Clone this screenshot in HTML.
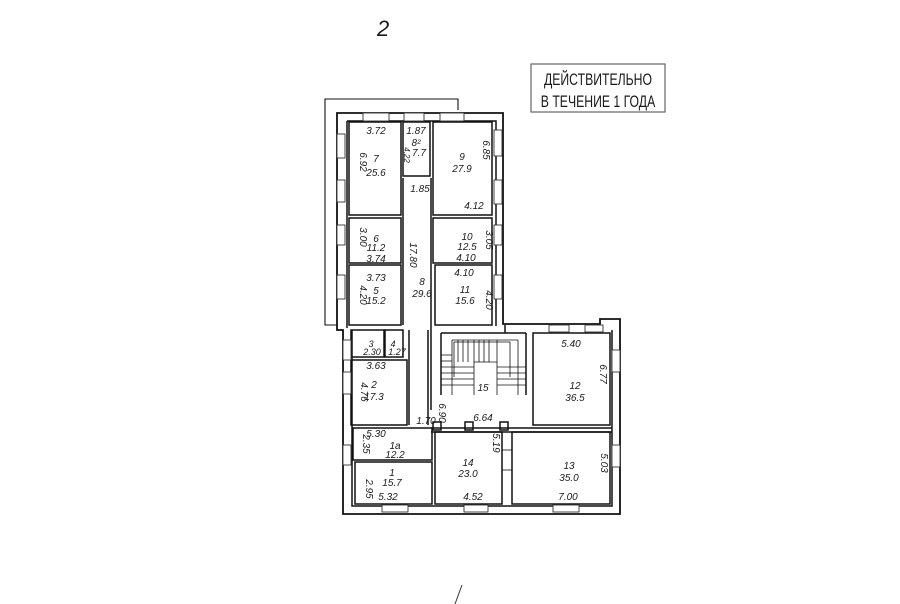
<!DOCTYPE html>
<html><head><meta charset="utf-8"><style>
html,body{margin:0;padding:0;background:#fff;}
svg{display:block;}
text{font-family:"Liberation Sans",sans-serif;fill:#1a1a1a;}
</style></head><body>
<svg width="900" height="604" viewBox="0 0 900 604" xmlns="http://www.w3.org/2000/svg">
<rect width="900" height="604" fill="#fff"/>
<!-- header -->
<text x="377" y="36" font-size="22" font-style="italic" font-family="Liberation Serif">2</text>
<rect x="531" y="64" width="134" height="48" fill="none" stroke="#666" stroke-width="1.2"/>
<text x="598" y="85" font-size="17" text-anchor="middle" transform="translate(598 0) scale(0.72 1) translate(-598 0)">ДЕЙСТВИТЕЛЬНО</text>
<text x="598" y="107" font-size="17" text-anchor="middle" transform="translate(598 0) scale(0.72 1) translate(-598 0)">В ТЕЧЕНИЕ 1 ГОДА</text>
<line x1="462" y1="585" x2="455" y2="604" stroke="#333" stroke-width="1"/>

<g fill="none" stroke="#111" stroke-width="1.5">
<!-- thin outer boundary -->
<polyline points="458,110 458,99 325,99 325,325 337,325" stroke-width="1.1"/>
<!-- outer wall -->
<path d="M337,113 L503,113 L503,324 L600,324 L600,319 L620,319 L620,514 L343,514 L343,330 L337,330 Z" stroke-width="1.8"/>
<!-- inner wall line -->
<path d="M347,121 L496,121 L496,326 M347,121 L347,328 M352,330 L352,506 L612,506 L612,330"/>
<!-- upper rooms -->
<rect x="349" y="122" width="52" height="93"/>
<rect x="403" y="122" width="27" height="54"/>
<rect x="433" y="122" width="59" height="93"/>
<rect x="349" y="218" width="52" height="45"/>
<rect x="433" y="218" width="59" height="45"/>
<rect x="349" y="265" width="52" height="60"/>
<rect x="435" y="265" width="57" height="60"/>
<line x1="403" y1="178" x2="403" y2="325"/>
<line x1="431" y1="178" x2="431" y2="325"/>
<!-- lower left -->
<rect x="351" y="330" width="33" height="27"/>
<rect x="385" y="330" width="18" height="27"/>
<rect x="351" y="360" width="56" height="65"/>
<rect x="353" y="428" width="79" height="32"/>
<rect x="355" y="462" width="77" height="42"/>
<line x1="409" y1="330" x2="409" y2="425"/>
<line x1="428" y1="330" x2="428" y2="425"/>
<!-- stair -->
<path d="M431,325 L431,410 M441,333 L441,395 M526,333 L526,395 M441,333 L526,333 M505,325 L505,333"/>
<g stroke-width="0.8">
<line x1="452" y1="340" x2="452" y2="395"/><line x1="474" y1="340" x2="474" y2="395"/>
<line x1="497" y1="340" x2="497" y2="395"/><line x1="518" y1="340" x2="518" y2="395"/>
<line x1="452" y1="340" x2="518" y2="340"/>
<line x1="458" y1="340" x2="458" y2="362"/><line x1="463" y1="340" x2="463" y2="362"/><line x1="468" y1="340" x2="468" y2="362"/>
<line x1="479" y1="340" x2="479" y2="362"/><line x1="484" y1="340" x2="484" y2="362"/><line x1="489" y1="340" x2="489" y2="362"/>
<line x1="474" y1="362" x2="497" y2="362"/>
<line x1="441" y1="355" x2="452" y2="355"/><line x1="441" y1="361" x2="452" y2="361"/><line x1="441" y1="367" x2="474" y2="367"/>
<line x1="441" y1="373" x2="474" y2="373"/><line x1="441" y1="379" x2="474" y2="379"/><line x1="441" y1="385" x2="474" y2="385"/>
<line x1="497" y1="367" x2="526" y2="367"/><line x1="497" y1="373" x2="526" y2="373"/><line x1="497" y1="379" x2="526" y2="379"/><line x1="497" y1="385" x2="526" y2="385"/>
<polyline points="454,377 454,342 510,342 510,377"/>
</g>
<!-- lower middle/right -->
<line x1="431" y1="428" x2="612" y2="428"/>
<line x1="431" y1="432" x2="612" y2="432"/>
<rect x="435" y="432" width="67" height="72"/>
<rect x="533" y="333" width="77" height="92"/>
<rect x="512" y="432" width="98" height="72"/>
<rect x="502" y="450" width="10" height="20" stroke-width="0.8"/>
<rect x="433" y="422" width="8" height="8"/><rect x="465" y="422" width="8" height="8"/><rect x="500" y="422" width="8" height="8"/>
</g>
<!-- windows -->
<g fill="#fff" stroke="#333" stroke-width="0.9">
<rect x="363" y="113" width="26" height="8"/><rect x="404" y="113" width="20" height="8"/><rect x="440" y="113" width="24" height="8"/>
<rect x="337" y="134" width="8" height="24"/><rect x="337" y="180" width="8" height="22"/><rect x="337" y="225" width="8" height="20"/><rect x="337" y="275" width="8" height="24"/>
<rect x="494" y="130" width="8" height="26"/><rect x="494" y="180" width="8" height="24"/><rect x="494" y="225" width="8" height="20"/><rect x="494" y="275" width="8" height="24"/>
<rect x="343" y="340" width="8" height="20"/><rect x="343" y="372" width="8" height="22"/><rect x="343" y="445" width="8" height="20"/>
<rect x="549" y="325" width="20" height="7"/><rect x="585" y="325" width="18" height="7"/>
<rect x="612" y="350" width="8" height="22"/><rect x="612" y="445" width="8" height="22"/>
<rect x="382" y="505" width="26" height="7"/><rect x="464" y="505" width="24" height="7"/><rect x="553" y="505" width="26" height="7"/>
</g>
<g font-size="10" font-style="italic" text-anchor="middle">
<text x="376" y="134">3.72</text>
<text x="416" y="134">1.87</text><text x="416" y="146">8²</text><text x="419" y="156">7.7</text>
<text x="462" y="160">9</text><text x="462" y="172">27.9</text>
<text x="376" y="162">7</text><text x="376" y="176">25.6</text>
<text x="420" y="192">1.85</text><text x="474" y="209">4.12</text>
<text x="376" y="242">6</text><text x="376" y="251">11.2</text><text x="376" y="262">3.74</text>
<text x="467" y="240">10</text><text x="467" y="250">12.5</text><text x="466" y="261">4.10</text>
<text x="376" y="281">3.73</text><text x="376" y="294">5</text><text x="376" y="304">15.2</text>
<text x="464" y="276">4.10</text><text x="465" y="293">11</text><text x="465" y="304">15.6</text>
<text x="422" y="285">8</text><text x="422" y="297">29.6</text>
<text x="371" y="347" font-size="9">3</text><text x="372" y="355" font-size="9">2.30</text>
<text x="393" y="347" font-size="9">4</text><text x="397" y="355" font-size="9">1.27</text>
<text x="376" y="369">3.63</text><text x="374" y="388">2</text><text x="374" y="400">17.3</text>
<text x="483" y="391">15</text><text x="483" y="421">6.64</text><text x="426" y="424">1.70</text>
<text x="376" y="437">5.30</text><text x="395" y="449">1a</text><text x="395" y="458">12.2</text>
<text x="392" y="476">1</text><text x="392" y="486">15.7</text><text x="388" y="500">5.32</text>
<text x="468" y="466">14</text><text x="468" y="477">23.0</text><text x="473" y="500">4.52</text>
<text x="571" y="347">5.40</text><text x="575" y="389">12</text><text x="575" y="401">36.5</text>
<text x="569" y="469">13</text><text x="569" y="481">35.0</text><text x="568" y="500">7.00</text>
<text transform="translate(360 162) rotate(90)">6.92</text>
<text transform="translate(483 150) rotate(90)">6.85</text>
<text transform="translate(404 155) rotate(90)" font-size="8">4.22</text>
<text transform="translate(410 255) rotate(90)">17.80</text>
<text transform="translate(360 237) rotate(90)">3.00</text>
<text transform="translate(486 240) rotate(90)">3.05</text>
<text transform="translate(360 295) rotate(90)">4.20</text>
<text transform="translate(486 300) rotate(90)">4.20</text>
<text transform="translate(361 392) rotate(90)">4.76</text>
<text transform="translate(363 444) rotate(90)">2.35</text>
<text transform="translate(366 489) rotate(90)">2.95</text>
<text transform="translate(439 413) rotate(90)">6.90</text>
<text transform="translate(493 443) rotate(90)">5.19</text>
<text transform="translate(600 374) rotate(90)">6.77</text>
<text transform="translate(601 463) rotate(90)">5.03</text>
</g>
</svg>
</body></html>
